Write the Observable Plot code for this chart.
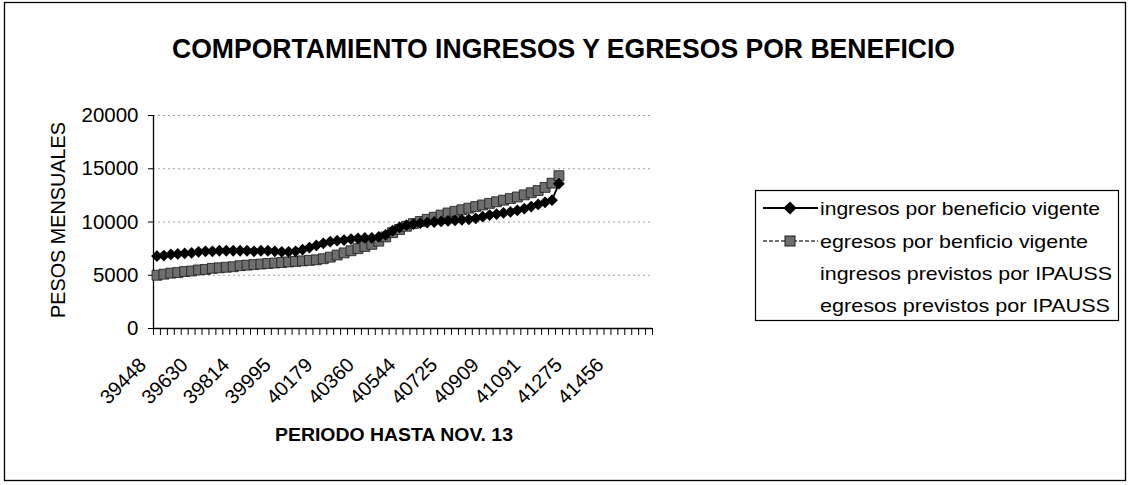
<!DOCTYPE html>
<html><head><meta charset="utf-8">
<script src="https://cdn.jsdelivr.net/npm/d3@7"></script>
<script src="https://cdn.jsdelivr.net/npm/@observablehq/plot@0.6"></script>
<style>
html,body{margin:0;padding:0;background:#fff;}
#wrap{position:relative;width:1130px;height:485px;overflow:hidden;font-family:"Liberation Sans",Arial,sans-serif;background:#fff;}
#wrap > svg{position:absolute;left:0;top:0;}
</style></head><body><div id="wrap"></div>
<script>
// Categories: Excel serial dates, first day of each month Jan 2008 - Dec 2013
const categories = [
  39448,39479,39508,39539,39569,39600,39630,39661,39692,39722,39753,39783,
  39814,39845,39873,39904,39934,39965,39995,40026,40057,40087,40118,40148,
  40179,40210,40238,40269,40299,40330,40360,40391,40422,40452,40483,40513,
  40544,40575,40603,40634,40664,40695,40725,40756,40787,40817,40848,40878,
  40909,40940,40969,41000,41030,41061,41091,41122,41153,41183,41214,41244,
  41275,41306,41334,41365,41395,41426,41456,41487,41518,41548,41579,41609
];
// Tick labels shown on the category axis
const xLabels = [39448,39630,39814,39995,40179,40360,40544,40725,40909,41091,41275,41456];
const yTicks = [0,5000,10000,15000,20000];
const gridValues = [5000,10000,15000,20000];

const seriesNames = [
  "ingresos por beneficio vigente",
  "egresos por benficio vigente",
  "ingresos previstos por IPAUSS",
  "egresos previstos por IPAUSS"
];

// ingresos por beneficio vigente (monthly, from 39448)
const ingresos = [
  6800,6850,6950,7000,7050,7100,7200,7250,7250,7300,7300,7300,
  7300,7300,7250,7300,7300,7250,7200,7200,7250,7400,7600,7800,
  8000,8150,8250,8300,8400,8450,8500,8500,8600,8800,9200,9500,
  9700,9800,9900,9950,10000,10050,10100,10150,10200,10250,10350,10500,
  10650,10750,10850,10950,11100,11250,11450,11650,11850,12050,13600
];
// egresos por benficio vigente (monthly, from 39448)
const egresos = [
  5000,5100,5200,5250,5350,5400,5500,5550,5650,5700,5750,5800,
  5900,5950,6000,6050,6100,6150,6200,6250,6300,6350,6400,6450,
  6550,6700,6900,7100,7300,7500,7700,7900,8200,8600,9000,9300,
  9600,9850,10050,10250,10450,10650,10850,11000,11150,11300,11450,11600,
  11750,11900,12050,12200,12350,12550,12750,12950,13250,13650,14350
];

const ingData = ingresos.map((v,i) => ({cat: categories[i], v}));
const egrData = egresos.map((v,i) => ({cat: categories[i], v}));
const pos = d => categories.indexOf(d.cat) + 0.5;

const FONT = "Liberation Sans, Arial, sans-serif";

const chart = Plot.plot({
  width: 680, height: 470,
  marginLeft: 153, marginRight: 28, marginTop: 115, marginBottom: 142,
  x: {type: "linear", domain: [0, categories.length], axis: null},
  y: {domain: [0, 20000], axis: null},
  style: {fontFamily: FONT, fontSize: "20px", color: "#000", background: "transparent", overflow: "visible"},
  marks: [
    Plot.ruleY(gridValues, {x1: 0, x2: categories.length, stroke: "#a0a0a0", strokeDasharray: "2,3", strokeWidth: 1}),
    Plot.axisY({ticks: yTicks, tickSize: 5, tickPadding: 10, fontSize: 20.5, tickFormat: d => String(d), label: null}),
    Plot.axisX({ticks: d3.range(categories.length + 1), tickSize: 7, tickFormat: () => "", label: null}),
    Plot.ruleX([0], {y1: 0, y2: 20000, stroke: "#000", strokeWidth: 1.3}),
    Plot.ruleY([0], {x1: 0, x2: categories.length, stroke: "#000", strokeWidth: 1.3}),
    Plot.text(xLabels, {x: d => categories.indexOf(d) + 0.5, y: () => 0, text: d => String(d),
      rotate: -45, textAnchor: "end", dx: -14, dy: 33, fontSize: 20}),
    Plot.line(egrData, {x: pos, y: "v", stroke: "#333", strokeWidth: 1.5}),
    Plot.dot(egrData, {x: pos, y: "v", symbol: "square", r: 5.6, fill: "#6e6e6e", stroke: "#1a1a1a", strokeWidth: 0.8}),
    Plot.line(ingData, {x: pos, y: "v", stroke: "#000", strokeWidth: 1.8}),
    Plot.dot(ingData, {x: pos, y: "v", symbol: "diamond2", r: 5.3, fill: "#000", stroke: "none"})
  ]
});
const wrap = document.getElementById("wrap");
wrap.appendChild(chart);

// Overlay: titles, legend, chart border
const svg = d3.select(wrap).append("svg").attr("width", 1130).attr("height", 485)
  .style("font-family", FONT).style("pointer-events", "none");

svg.append("rect").attr("x", 4.5).attr("y", 2.5).attr("width", 1121).attr("height", 478)
  .attr("fill", "none").attr("stroke", "#000").attr("stroke-width", 1.3);

svg.append("text").attr("x", 172).attr("y", 58).attr("font-size", 27).attr("font-weight", "bold")
  .attr("textLength", 783).attr("lengthAdjust", "spacingAndGlyphs")
  .text("COMPORTAMIENTO INGRESOS Y EGRESOS POR BENEFICIO");

svg.append("text").attr("transform", "translate(65,220) rotate(-90)").attr("text-anchor", "middle")
  .attr("font-size", 21).attr("textLength", 196).attr("lengthAdjust", "spacingAndGlyphs")
  .text("PESOS MENSUALES");

svg.append("text").attr("x", 275).attr("y", 441).attr("font-size", 18.5).attr("font-weight", "bold")
  .attr("textLength", 238).attr("lengthAdjust", "spacingAndGlyphs")
  .text("PERIODO HASTA NOV. 13");

// Legend
const lg = svg.append("g");
lg.append("rect").attr("x", 755.5).attr("y", 190.5).attr("width", 363).attr("height", 130)
  .attr("fill", "#fff").attr("stroke", "#000").attr("stroke-width", 1.2);
const rowY = [208, 241, 273, 305];
const textLen = [280, 268, 292, 290];
seriesNames.forEach((name, i) => {
  lg.append("text").attr("x", 820).attr("y", rowY[i] + 6.5).attr("font-size", 19)
    .attr("textLength", textLen[i]).attr("lengthAdjust", "spacingAndGlyphs").text(name);
});
lg.append("line").attr("x1", 763).attr("x2", 818).attr("y1", rowY[0]).attr("y2", rowY[0])
  .attr("stroke", "#000").attr("stroke-width", 1.8);
lg.append("path").attr("d", d3.symbol(d3.symbolDiamond2, 110)()).attr("transform", `translate(790,${rowY[0]})`)
  .attr("fill", "#000");
lg.append("line").attr("x1", 763).attr("x2", 818).attr("y1", rowY[1]).attr("y2", rowY[1])
  .attr("stroke", "#444").attr("stroke-width", 1.5).attr("stroke-dasharray", "4,2");
lg.append("rect").attr("x", 785).attr("y", rowY[1] - 5).attr("width", 10).attr("height", 10)
  .attr("fill", "#6e6e6e").attr("stroke", "#1a1a1a").attr("stroke-width", 1);
</script></body></html>
